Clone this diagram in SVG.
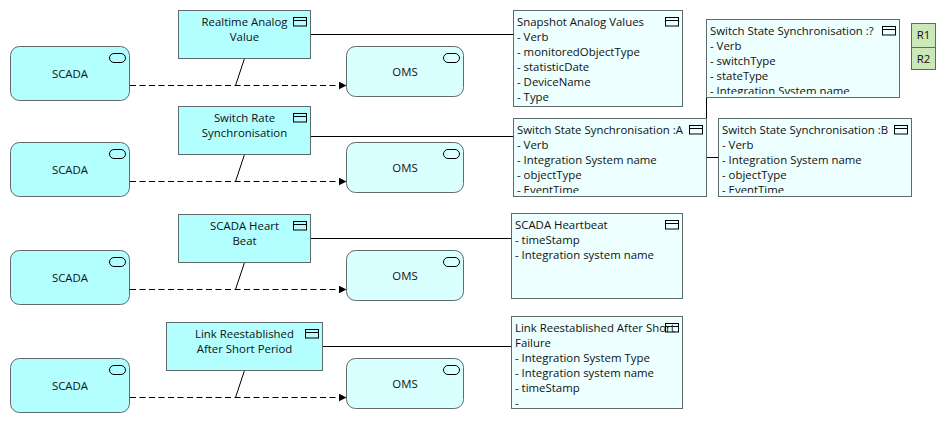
<svg xmlns="http://www.w3.org/2000/svg" width="946" height="423" viewBox="0 0 946 423">
<style>
text{font-family:"Open Sans","Noto Sans","Liberation Sans",sans-serif;font-size:11.4px;fill:#111}
.m{text-anchor:middle}
.b{stroke:#5f6b6b;stroke-width:1}
.fn{fill:#b3ffff}
.ob{fill:#edffff}
.om{fill:#d9ffff}
.r{fill:#cbe8b8}
.i{fill:none;stroke:#000;stroke-width:1}
.c{fill:none;stroke:#000;stroke-width:1}
.d{stroke-dasharray:6 3.5}
</style>
<defs>
<marker id="a" markerUnits="userSpaceOnUse" markerWidth="9" markerHeight="8" refX="8" refY="4" orient="auto"><path d="M0 0L8 4L0 8Z" fill="#000"/></marker>
<symbol id="w" overflow="visible"><rect class="i" x="0" y="0" width="13" height="8.500"/><path class="i" d="M0 3H13"/></symbol>
<symbol id="p" overflow="visible"><rect class="i" x="0" y="0" width="16" height="9" rx="4.500"/></symbol>
<clipPath id="c1"><rect x="707" y="20" width="192" height="74"/></clipPath>
<clipPath id="c2"><rect x="514" y="119" width="192" height="74"/></clipPath>
<clipPath id="c3"><rect x="719" y="119" width="192" height="74"/></clipPath>
</defs>
<g id="connectors">
<path class="c d" marker-end="url(#a)" d="M130 85.500H346.500"/>
<path class="c d" marker-end="url(#a)" d="M130 181.500H346.500"/>
<path class="c d" marker-end="url(#a)" d="M130 289.500H346.500"/>
<path class="c d" marker-end="url(#a)" d="M130 397.500H346.500"/>
<path class="c" d="M244.500 58.500L235.500 85.500M244.500 154.500L235.500 181.500M244.500 262.500L235.500 289.500M244.500 370.500L235.500 397.500"/>
<path class="c" d="M311 34.500H513M311 136.500H513M311 238.500H511M323 346.500H511M706.500 97.500V118.500M706.500 157.500H718.500"/>
</g>
<g id="scada1"><rect class="b fn" x="10.500" y="46.500" width="119" height="54" rx="9"/><use href="#p" x="109.500" y="53.500"/><text class="m" x="70" y="78">SCADA</text></g>
<g id="oms1"><rect class="b om" x="346.500" y="46.500" width="117" height="50" rx="9"/><use href="#p" x="443.500" y="53.500"/><text class="m" x="405" y="76">OMS</text></g>
<g id="realtime"><rect class="b fn" x="178.500" y="10.500" width="132" height="48"/><use href="#w" x="293.500" y="17.500"/><text class="m" x="244.500" y="26">Realtime Analog</text><text class="m" x="244.500" y="41">Value</text></g>
<g id="scada2"><rect class="b fn" x="10.500" y="142.500" width="119" height="54" rx="9"/><use href="#p" x="109.500" y="149.500"/><text class="m" x="70" y="174">SCADA</text></g>
<g id="oms2"><rect class="b om" x="346.500" y="142.500" width="117" height="50" rx="9"/><use href="#p" x="443.500" y="149.500"/><text class="m" x="405" y="172">OMS</text></g>
<g id="switchrate"><rect class="b fn" x="178.500" y="106.500" width="132" height="48"/><use href="#w" x="293.500" y="113.500"/><text class="m" x="244.500" y="122">Switch Rate</text><text class="m" x="244.500" y="137">Synchronisation</text></g>
<g id="scada3"><rect class="b fn" x="10.500" y="250.500" width="119" height="54" rx="9"/><use href="#p" x="109.500" y="257.500"/><text class="m" x="70" y="282">SCADA</text></g>
<g id="oms3"><rect class="b om" x="346.500" y="250.500" width="117" height="50" rx="9"/><use href="#p" x="443.500" y="257.500"/><text class="m" x="405" y="280">OMS</text></g>
<g id="heart"><rect class="b fn" x="178.500" y="214.500" width="132" height="48"/><use href="#w" x="293.500" y="221.500"/><text class="m" x="244.500" y="230">SCADA Heart</text><text class="m" x="244.500" y="245">Beat</text></g>
<g id="scada4"><rect class="b fn" x="10.500" y="358.500" width="119" height="54" rx="9"/><use href="#p" x="109.500" y="365.500"/><text class="m" x="70" y="390">SCADA</text></g>
<g id="oms4"><rect class="b om" x="346.500" y="358.500" width="117" height="50" rx="9"/><use href="#p" x="443.500" y="365.500"/><text class="m" x="405" y="388">OMS</text></g>
<g id="link"><rect class="b fn" x="166.500" y="322.500" width="156" height="48"/><use href="#w" x="305.500" y="329.500"/><text class="m" x="244.500" y="338">Link Reestablished</text><text class="m" x="244.500" y="353">After Short Period</text></g>
<g id="snapshot"><rect class="b ob" x="513.500" y="10.500" width="169" height="96"/><use href="#w" x="665.500" y="17.500"/>
<text x="517" y="26">Snapshot Analog Values</text><text x="517" y="41">- Verb</text><text x="517" y="56">- monitoredObjectType</text><text x="517" y="71">- statisticDate</text><text x="517" y="86">- DeviceName</text><text x="517" y="101">- Type</text></g>
<g id="stateq"><rect class="b ob" x="706.500" y="19.500" width="193" height="78"/><use href="#w" x="882.500" y="26.500"/>
<g clip-path="url(#c1)"><text x="710" y="35">Switch State Synchronisation :?</text><text x="710" y="50">- Verb</text><text x="710" y="65">- switchType</text><text x="710" y="80">- stateType</text><text x="710" y="95">- Integration System name</text></g></g>
<g id="statea"><rect class="b ob" x="513.500" y="118.500" width="193" height="78"/><use href="#w" x="689.500" y="125.500"/>
<g clip-path="url(#c2)"><text x="517" y="134">Switch State Synchronisation :A</text><text x="517" y="149">- Verb</text><text x="517" y="164">- Integration System name</text><text x="517" y="179">- objectType</text><text x="517" y="194">- EventTime</text></g></g>
<g id="stateb"><rect class="b ob" x="718.500" y="118.500" width="193" height="78"/><use href="#w" x="894.500" y="125.500"/>
<g clip-path="url(#c3)"><text x="722" y="134">Switch State Synchronisation :B</text><text x="722" y="149">- Verb</text><text x="722" y="164">- Integration System name</text><text x="722" y="179">- objectType</text><text x="722" y="194">- EventTime</text></g></g>
<g id="heartbeat"><rect class="b ob" x="511.500" y="213.500" width="171" height="85"/><use href="#w" x="665.500" y="220.500"/>
<text x="515" y="229">SCADA Heartbeat</text><text x="515" y="244">- timeStamp</text><text x="515" y="259">- Integration system name</text></g>
<g id="linkfail"><rect class="b ob" x="511.500" y="316.500" width="171" height="92"/><use href="#w" x="665.500" y="323.500"/>
<text x="515" y="332">Link Reestablished After Short</text><text x="515" y="347">Failure</text><text x="515" y="362">- Integration System Type</text><text x="515" y="377">- Integration system name</text><text x="515" y="392">- timeStamp</text><text x="515" y="407">-</text></g>
<g id="r1"><rect class="b r" x="911.500" y="23.500" width="24" height="24"/><text class="m" x="923.500" y="39">R1</text></g>
<g id="r2"><rect class="b r" x="911.500" y="47.500" width="24" height="22"/><text class="m" x="923.500" y="63">R2</text></g>
</svg>
